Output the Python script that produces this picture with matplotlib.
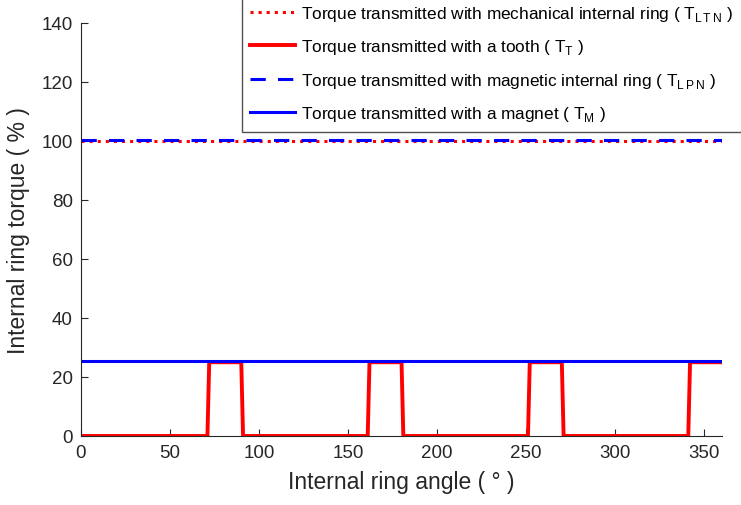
import numpy as np
import matplotlib
matplotlib.use("Agg")
import matplotlib.pyplot as plt

plt.rcParams['font.family'] = ['Liberation Sans', 'DejaVu Sans']
plt.rcParams['mathtext.fontset'] = 'custom'
plt.rcParams['mathtext.rm'] = 'Liberation Sans'

# data
angle_tooth = [0, 71, 72, 90, 91, 161, 162, 180, 181, 251, 252, 270, 271, 341, 342, 360]
torque_tooth = [0, 0, 25, 25, 0, 0, 25, 25, 0, 0, 25, 25, 0, 0, 25, 25]
angle_line = [0, 360]
t_ltn = [100, 100]
t_lpn = [100.3, 100.3]
t_m = [25.4, 25.4]

fig = plt.figure(figsize=(7.41, 5.06), dpi=100)
ax = fig.add_axes([0.1093, 0.1364, 0.8652, 0.8162])

ax.plot(angle_line, t_ltn, color='#ff0000', linestyle=':', linewidth=2.2,
        label='Torque transmitted with mechanical internal ring ( T$_{\\mathregular{L\\,T\\,N}}$ )')
ax.plot(angle_tooth, torque_tooth, color='#ff0000', linewidth=2.8,
        label='Torque transmitted with a tooth ( T$_{\\mathregular{T}}$ )')
ax.plot(angle_line, t_lpn, color='#0000ff', linestyle=(0, (5, 4)), linewidth=2.2,
        label='Torque transmitted with magnetic internal ring ( T$_{\\mathregular{L\\,P\\,N}}$ )')
ax.plot(angle_line, t_m, color='#0000ff', linewidth=2.2,
        label='Torque transmitted with a magnet ( T$_{\\mathregular{M}}$ )')

ax.set_xlim(0, 360)
ax.set_ylim(0, 140)
ax.set_xticks(np.arange(0, 351, 50))
ax.set_yticks(np.arange(0, 141, 20))
ax.spines['top'].set_visible(False)
ax.spines['right'].set_visible(False)
for s in ['left', 'bottom']:
    ax.spines[s].set_color('#262626')
ax.tick_params(direction='in', length=5, labelsize=13.5, colors='#262626', pad=6)
ax.set_xlabel('Internal ring angle ( ° )', fontsize=16.5, color='#262626', labelpad=6)
ax.set_ylabel('Internal ring torque ( % )', fontsize=16.5, color='#262626', labelpad=8)

leg = fig.legend(loc='upper right', bbox_to_anchor=(1.001, 1.008), fontsize=12.4,
                 frameon=True, fancybox=False, handlelength=2.6, labelspacing=0.85,
                 borderpad=0.5, handletextpad=0.35, borderaxespad=0)
leg.get_frame().set_edgecolor('#262626')
leg.get_frame().set_linewidth(1.0)

fig.savefig('out.png', dpi=100)
